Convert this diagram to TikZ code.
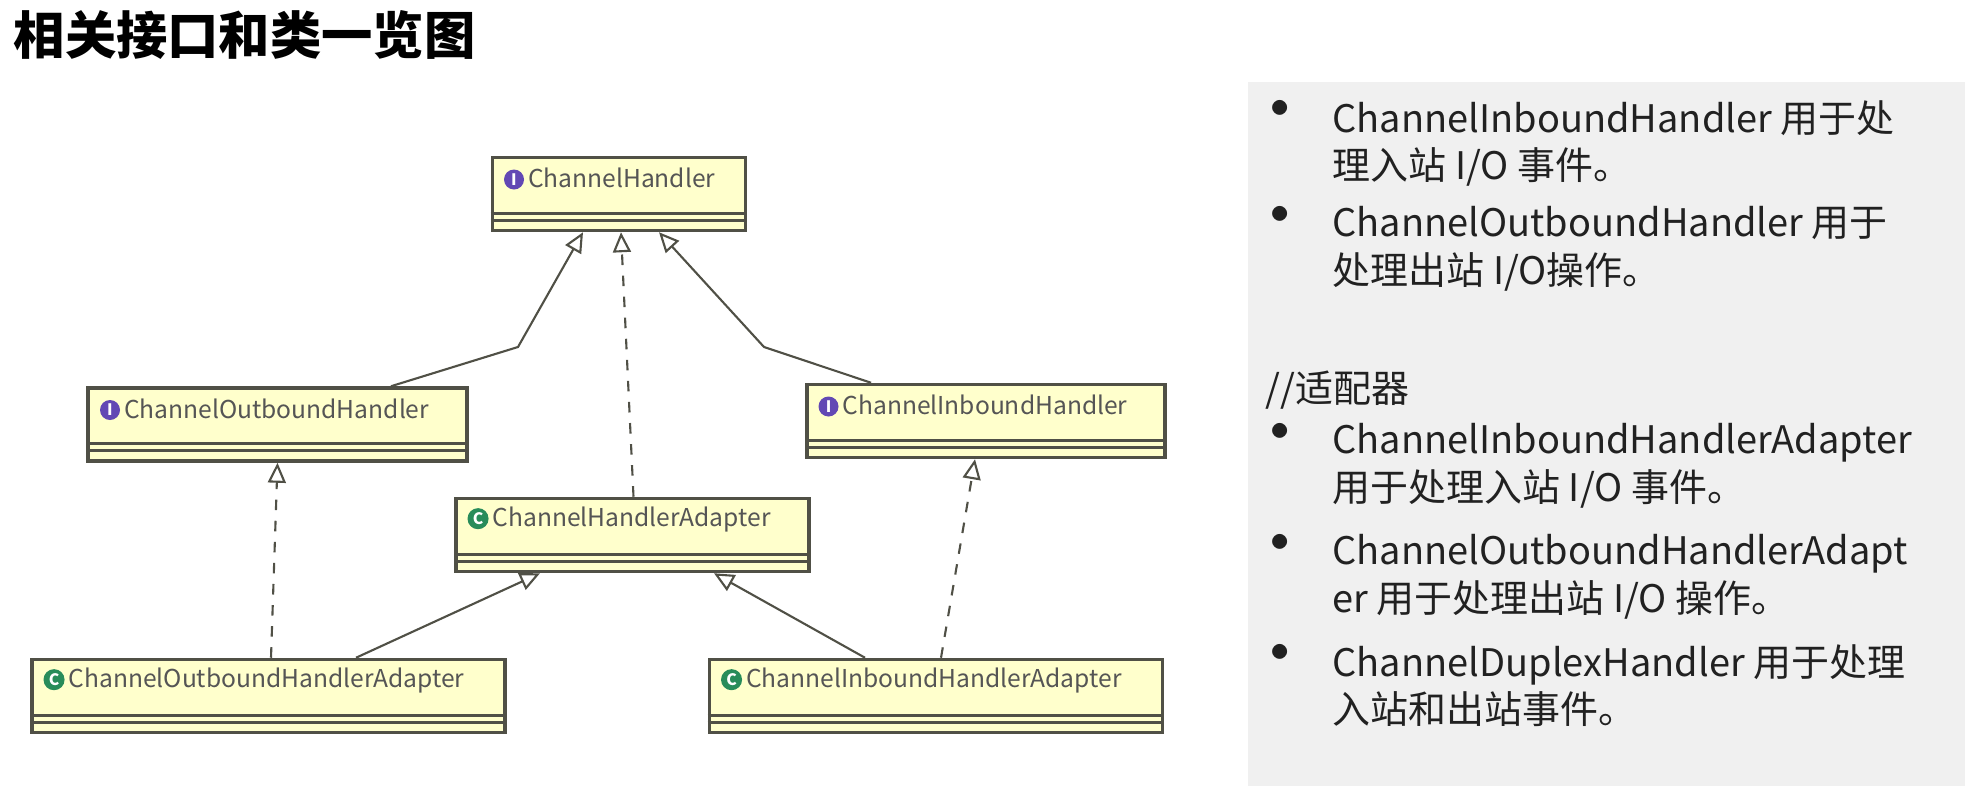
\documentclass[tikz,border=0pt]{standalone}
\usepackage{fontspec}
\setmainfont{Noto Sans CJK SC}
\usetikzlibrary{arrows.meta, positioning}
\definecolor{boxyellow}{RGB}{255, 255, 204}
\definecolor{boxline}{RGB}{80, 80, 70}
\definecolor{boxtext}{RGB}{85, 85, 85}
\definecolor{ifacepurple}{RGB}{98, 72, 180}
\definecolor{classgreen}{RGB}{40, 140, 90}
\definecolor{panelgray}{RGB}{240, 240, 240}
\definecolor{textdark}{RGB}{33, 33, 33}
\newcommand{\umlicon}[2]{\tikz[baseline=-0.6ex]\node[circle, fill=#1, text=white, inner sep=0.5pt, minimum size=0.2cm, font=\fontsize{4.5pt}{5pt}\selectfont\bfseries] {#2};}
\newcommand{\umlname}[3]{\makebox[#1][l]{\umlicon{#2}{\ifx c#2 C\else I\fi}\,#3}}

\begin{document}
\begin{tikzpicture}[
    umlbox/.style={rectangle, draw=boxline, line width=1pt, fill=boxyellow, minimum height=0.73cm, text=boxtext, font=\fontsize{7pt}{9pt}\selectfont, anchor=center, inner ysep=0pt},
    inherit/.style={-{Triangle[open, length=0.2cm, width=0.18cm, fill=white]}, line width=0.6pt, color=boxline},
    realize/.style={inherit, dashed},
    bullet/.style={anchor=north west, align=left, font=\fontsize{10.8pt}{13.4pt}\selectfont, text=textdark, inner sep=0pt},
]
\useasboundingbox (0,0) rectangle (19.7,-7.86);

% Title
\node[anchor=west, font=\fontsize{14.6pt}{16pt}\selectfont\bfseries, inner sep=0pt] (title) at (0.13,-0.35) {相关接口和类一览图};

% Right panel
\fill[panelgray] (12.48,-0.82) rectangle (19.65,-7.86);
\node[bullet] (b1) at (12.7,-1.0) {$\bullet$};
\node[bullet] (t1) at (13.32,-1.0) {ChannelInboundHandler 用于处\\理入站 I/O 事件。};
\node[bullet] (b2) at (12.7,-2.06) {$\bullet$};
\node[bullet] (t2) at (13.32,-2.06) {ChannelOutboundHandler 用于\\处理出站 I/O操作。};
\node[bullet] (adapt) at (12.65,-3.7) {//适配器};
\node[bullet] (b3) at (12.7,-4.23) {$\bullet$};
\node[bullet] (t3) at (13.32,-4.23) {ChannelInboundHandlerAdapter\\用于处理入站 I/O 事件。};
\node[bullet] (b4) at (12.7,-5.34) {$\bullet$};
\node[bullet] (t4) at (13.32,-5.34) {ChannelOutboundHandlerAdapt\\er 用于处理出站 I/O 操作。};
\node[bullet] (b5) at (12.7,-6.44) {$\bullet$};
\node[bullet] (t5) at (13.32,-6.44) {ChannelDuplexHandler 用于处理\\入站和出站事件。};

% Class boxes
\node[umlbox, minimum width=2.52cm] (handler) at (6.19,-1.94) {\shortstack[l]{\makebox[2.3cm][l]{\umlicon{ifacepurple}{I}\,ChannelHandler}\\[0.2cm]}};
\node[umlbox, minimum width=3.79cm] (outbound) at (2.775,-4.245) {\shortstack[l]{\makebox[3.55cm][l]{\umlicon{ifacepurple}{I}\,ChannelOutboundHandler}\\[0.2cm]}};
\node[umlbox, minimum width=3.56cm] (inbound) at (9.86,-4.21) {\shortstack[l]{\makebox[3.35cm][l]{\umlicon{ifacepurple}{I}\,ChannelInboundHandler}\\[0.2cm]}};
\node[umlbox, minimum width=3.51cm] (adapter) at (6.325,-5.35) {\shortstack[l]{\makebox[3.3cm][l]{\umlicon{classgreen}{C}\,ChannelHandlerAdapter}\\[0.2cm]}};
\node[umlbox, minimum width=4.73cm] (outadapter) at (2.685,-6.96) {\shortstack[l]{\makebox[4.5cm][l]{\umlicon{classgreen}{C}\,ChannelOutboundHandlerAdapter}\\[0.2cm]}};
\node[umlbox, minimum width=4.52cm] (inadapter) at (9.36,-6.96) {\shortstack[l]{\makebox[4.3cm][l]{\umlicon{classgreen}{C}\,ChannelInboundHandlerAdapter}\\[0.2cm]}};

% Compartment lines
\foreach \n in {handler, outbound, inbound, adapter, outadapter, inadapter} {
    \draw[boxline, line width=0.8pt] ([yshift=0.19cm]\n.south west) -- ([yshift=0.19cm]\n.south east);
    \draw[boxline, line width=0.8pt] ([yshift=0.12cm]\n.south west) -- ([yshift=0.12cm]\n.south east);
}

% Generalization and realization
\draw[inherit] ([xshift=1.135cm]outbound.north) -- (5.18,-3.47) -- ([xshift=-0.36cm]handler.south);
\draw[inherit] ([xshift=-1.15cm]inbound.north) -- (7.64,-3.47) -- ([xshift=0.40cm]handler.south);
\draw[realize] ([xshift=0.01cm]adapter.north) -- ([xshift=0.02cm]handler.south);
\draw[realize] ([xshift=0.025cm]outadapter.north) -- (outbound.south);
\draw[inherit] ([xshift=0.875cm]outadapter.north) -- ([xshift=-0.925cm]adapter.south);
\draw[inherit] ([xshift=-0.71cm]inadapter.north) -- ([xshift=0.815cm]adapter.south);
\draw[realize] ([xshift=0.05cm]inadapter.north) -- ([xshift=-0.11cm]inbound.south);

\end{tikzpicture}
\end{document}
